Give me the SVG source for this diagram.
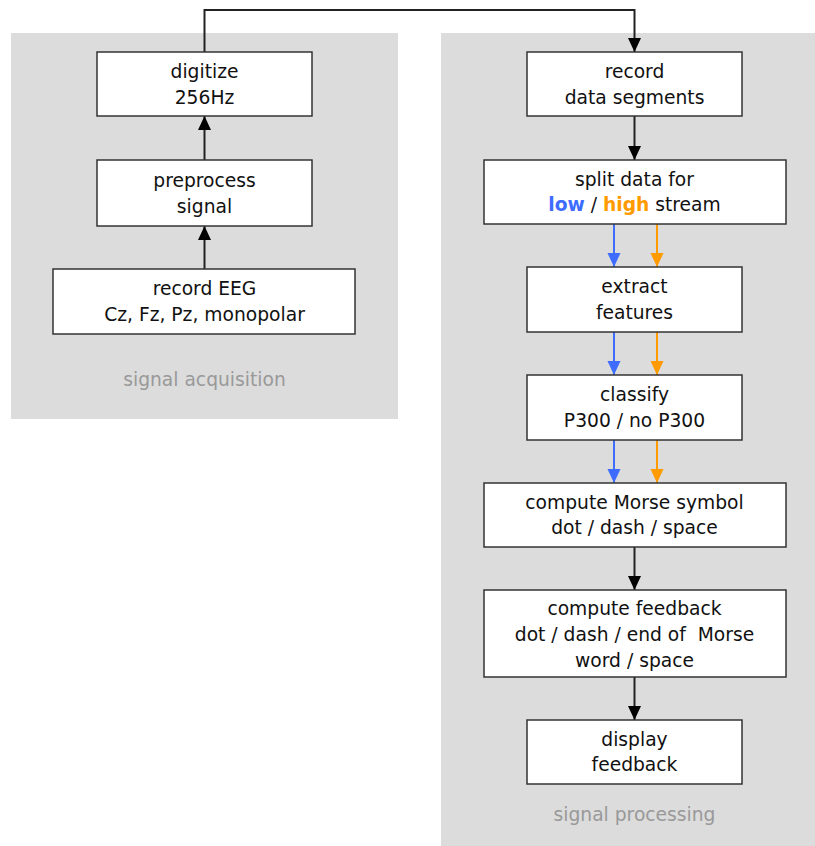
<svg xmlns="http://www.w3.org/2000/svg" width="815" height="846" viewBox="0 0 815 846">
<style>
.panel{fill:#dcdcdc}
.box{fill:#fff;stroke:#333;stroke-width:1.5}
.t{font-family:"DejaVu Sans",Verdana,sans-serif;font-size:18.7px;fill:#111;text-anchor:middle}
.lbl{font-family:"DejaVu Sans",Verdana,sans-serif;font-size:18.7px;fill:#999;text-anchor:middle}
.k{stroke:#222;stroke-width:2;fill:none}
.b{stroke:#3d6cff;stroke-width:2;fill:none}
.o{stroke:#ff9a00;stroke-width:2;fill:none}
</style>
<defs>
<marker id="ak" markerUnits="userSpaceOnUse" markerWidth="14" markerHeight="14" viewBox="0 0 14 14" refX="14" refY="7" orient="auto"><path d="M0,0.5 L14,7 L0,13.5 Z" fill="#000"/></marker>
<marker id="ab" markerUnits="userSpaceOnUse" markerWidth="14" markerHeight="14" viewBox="0 0 14 14" refX="14" refY="7" orient="auto"><path d="M0,0.5 L14,7 L0,13.5 Z" fill="#3d6cff"/></marker>
<marker id="ao" markerUnits="userSpaceOnUse" markerWidth="14" markerHeight="14" viewBox="0 0 14 14" refX="14" refY="7" orient="auto"><path d="M0,0.5 L14,7 L0,13.5 Z" fill="#ff9a00"/></marker>
</defs>
<g id="panel-acquisition">
<rect class="panel" x="11" y="33" width="387" height="386"/>
<text class="lbl" x="204.5" y="386">signal acquisition</text>
</g>
<g id="panel-processing">
<rect class="panel" x="441" y="33" width="374" height="813"/>
<text class="lbl" x="634.5" y="821">signal processing</text>
</g>
<g id="connectors">
<path class="k" d="M204.5,52 V10 H634.5 V52" marker-end="url(#ak)"/>
<path class="k" d="M204.5,160 V116" marker-end="url(#ak)"/>
<path class="k" d="M204.5,269 V226" marker-end="url(#ak)"/>
<path class="k" d="M634.5,116 V160" marker-end="url(#ak)"/>
<path class="b" d="M614,224 V267" marker-end="url(#ab)"/>
<path class="o" d="M657,224 V267" marker-end="url(#ao)"/>
<path class="b" d="M614,332 V375" marker-end="url(#ab)"/>
<path class="o" d="M657,332 V375" marker-end="url(#ao)"/>
<path class="b" d="M614,440 V483" marker-end="url(#ab)"/>
<path class="o" d="M657,440 V483" marker-end="url(#ao)"/>
<path class="k" d="M634.5,547 V590" marker-end="url(#ak)"/>
<path class="k" d="M634.5,677 V720" marker-end="url(#ak)"/>
</g>
<g id="digitize">
<rect class="box" x="97" y="52" width="215" height="64"/>
<text class="t" x="204.5" y="78">digitize</text>
<text class="t" x="204.5" y="104">256Hz</text>
</g>
<g id="preprocess">
<rect class="box" x="97" y="160" width="215" height="66"/>
<text class="t" x="204.5" y="187">preprocess</text>
<text class="t" x="204.5" y="213">signal</text>
</g>
<g id="record-eeg">
<rect class="box" x="53" y="269" width="302" height="65"/>
<text class="t" x="204.5" y="295">record EEG</text>
<text class="t" x="204.5" y="321">Cz, Fz, Pz, monopolar</text>
</g>
<g id="record-segments">
<rect class="box" x="527" y="52" width="215" height="64"/>
<text class="t" x="634.5" y="78">record</text>
<text class="t" x="634.5" y="104">data segments</text>
</g>
<g id="split">
<rect class="box" x="484" y="160" width="302" height="64"/>
<text class="t" x="634.5" y="186">split data for</text>
<text class="t" x="634.5" y="211"><tspan fill="#3d6cff" font-weight="bold">low</tspan> / <tspan fill="#ff9a00" font-weight="bold">high</tspan> stream</text>
</g>
<g id="extract">
<rect class="box" x="527" y="267" width="215" height="65"/>
<text class="t" x="634.5" y="293">extract</text>
<text class="t" x="634.5" y="319">features</text>
</g>
<g id="classify">
<rect class="box" x="527" y="375" width="215" height="65"/>
<text class="t" x="634.5" y="401">classify</text>
<text class="t" x="634.5" y="427">P300 / no P300</text>
</g>
<g id="morse-symbol">
<rect class="box" x="484" y="483" width="302" height="64"/>
<text class="t" x="634.5" y="509">compute Morse symbol</text>
<text class="t" x="634.5" y="534">dot / dash / space</text>
</g>
<g id="feedback">
<rect class="box" x="484" y="590" width="302" height="87"/>
<text class="t" x="634.5" y="615">compute feedback</text>
<text class="t" x="634.5" y="641">dot / dash / end of&#160; Morse</text>
<text class="t" x="634.5" y="667">word / space</text>
</g>
<g id="display">
<rect class="box" x="527" y="720" width="215" height="64"/>
<text class="t" x="634.5" y="746">display</text>
<text class="t" x="634.5" y="771">feedback</text>
</g>
</svg>
